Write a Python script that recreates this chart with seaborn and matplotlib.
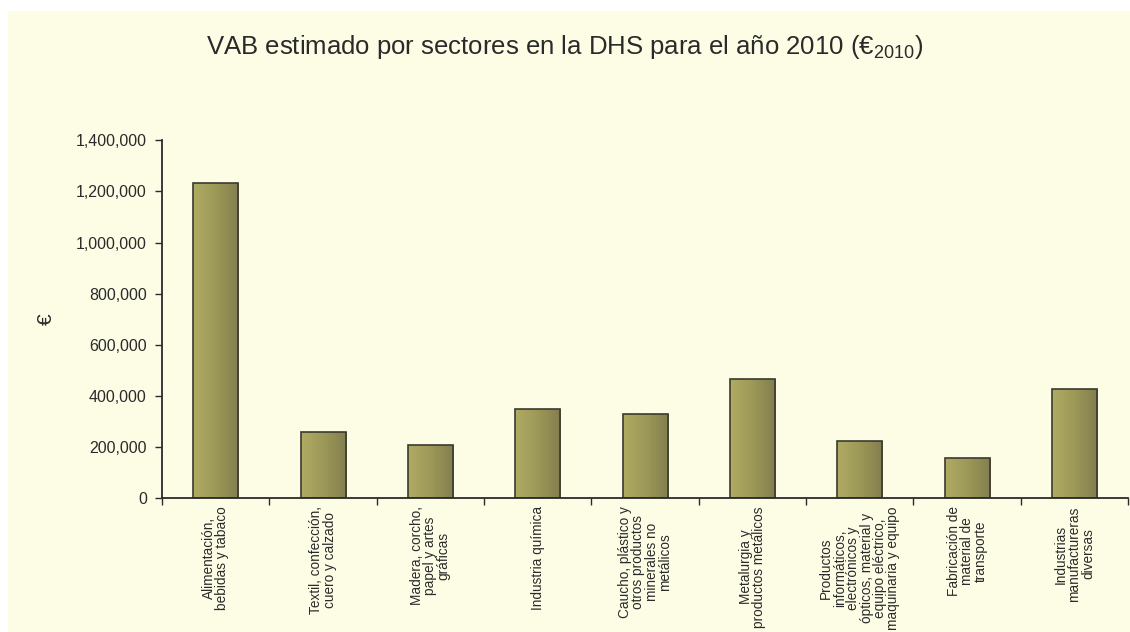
import numpy as np
import pandas as pd
import seaborn as sns
import matplotlib
matplotlib.use('Agg')
from matplotlib import pyplot as plt
from matplotlib.patches import Rectangle
from matplotlib.colors import LinearSegmentedColormap
from matplotlib.ticker import FuncFormatter, FixedLocator

sectores = [
    'Alimentación,\nbebidas y tabaco',
    'Textil, confección,\ncuero y calzado',
    'Madera, corcho,\npapel y artes\ngráficas',
    'Industria química',
    'Caucho, plástico y\notros productos\nminerales no\nmetálicos',
    'Metalurgia y\nproductos metálicos',
    'Productos\ninformáticos,\nelectrónicos y\nópticos, material y\nequipo eléctrico,\nmaquinaria y equipo',
    'Fabricación de\nmaterial de\ntransporte',
    'Industrias\nmanufactureras\ndiversas',
]
vab = [1234000, 258000, 207000, 348000, 329000, 465000, 224000, 157000, 425000]

sns.set_theme(style='white')
plt.rcParams['font.family'] = ['Liberation Sans', 'DejaVu Sans']
plt.rcParams['mathtext.fontset'] = 'custom'
plt.rcParams['mathtext.rm'] = 'Liberation Sans'
plt.rcParams['mathtext.it'] = 'Liberation Sans'

bg = '#fdfde6'
ink = '#2a2a2a'
fig = plt.figure(figsize=(11.3, 6.32), dpi=100, facecolor='white')
fig.patches.append(Rectangle((8 / 1130, 0), 1, 1 - 11 / 632, transform=fig.transFigure,
                             facecolor=bg, edgecolor='none', zorder=-10))
ax = fig.add_axes([0.1434, 0.212, 0.855, 0.566])
ax.set_facecolor(bg)

df = pd.DataFrame({'sector': sectores, 'vab': vab})
sns.barplot(data=df, x='sector', y='vab', ax=ax, color='#9e9a5c', saturation=1,
            width=0.42, edgecolor='#3a3a30', linewidth=1.2)

# olive gradient fill inside each bar
cmap = LinearSegmentedColormap.from_list('oliva', ['#b0ab62', '#9c9858', '#837f4f'])
grad = np.linspace(0, 1, 64).reshape(1, -1)
for bar in ax.patches:
    x0, w, h = bar.get_x(), bar.get_width(), bar.get_height()
    im = ax.imshow(grad, cmap=cmap, aspect='auto', extent=(x0, x0 + w, 0, h),
                   zorder=bar.get_zorder() - 0.1, interpolation='bilinear')
    im.set_clip_path(bar)
    bar.set_facecolor('none')
ax.set_ylim(0, 1400000)
ax.set_xlim(-0.5, len(sectores) - 0.5)

ax.yaxis.set_major_locator(FixedLocator(np.arange(0, 1400001, 200000)))
ax.yaxis.set_major_formatter(FuncFormatter(lambda v, p: f'{int(v):,}'))
ax.tick_params(axis='y', direction='out', length=5, width=1, color=ink,
               labelsize=11.5, labelcolor=ink, pad=6, left=True)
ax.set_xticks(np.arange(len(sectores)))
ax.set_xticklabels(sectores, rotation=90, fontsize=9.8, color=ink,
                   ha='center', va='top', multialignment='center', linespacing=0.95)
ax.tick_params(axis='x', which='major', length=0, pad=6)
ax.set_xticks(np.arange(-0.5, len(sectores), 1), minor=True)
ax.tick_params(axis='x', which='minor', direction='out', length=5, width=1,
               color=ink, bottom=True)

for s in ['top', 'right']:
    ax.spines[s].set_visible(False)
for s in ['left', 'bottom']:
    ax.spines[s].set_color(ink)
    ax.spines[s].set_linewidth(1.3)

ax.set_xlabel('')
ax.set_ylabel('€', fontsize=15, color=ink, labelpad=14)

fig.text(0.5, 0.925, 'VAB estimado por sectores en la DHS para el año 2010 (€$_{2010}$)',
         ha='center', va='center', fontsize=18.5, color=ink)

fig.savefig('out.png', dpi=100, facecolor=fig.get_facecolor())
